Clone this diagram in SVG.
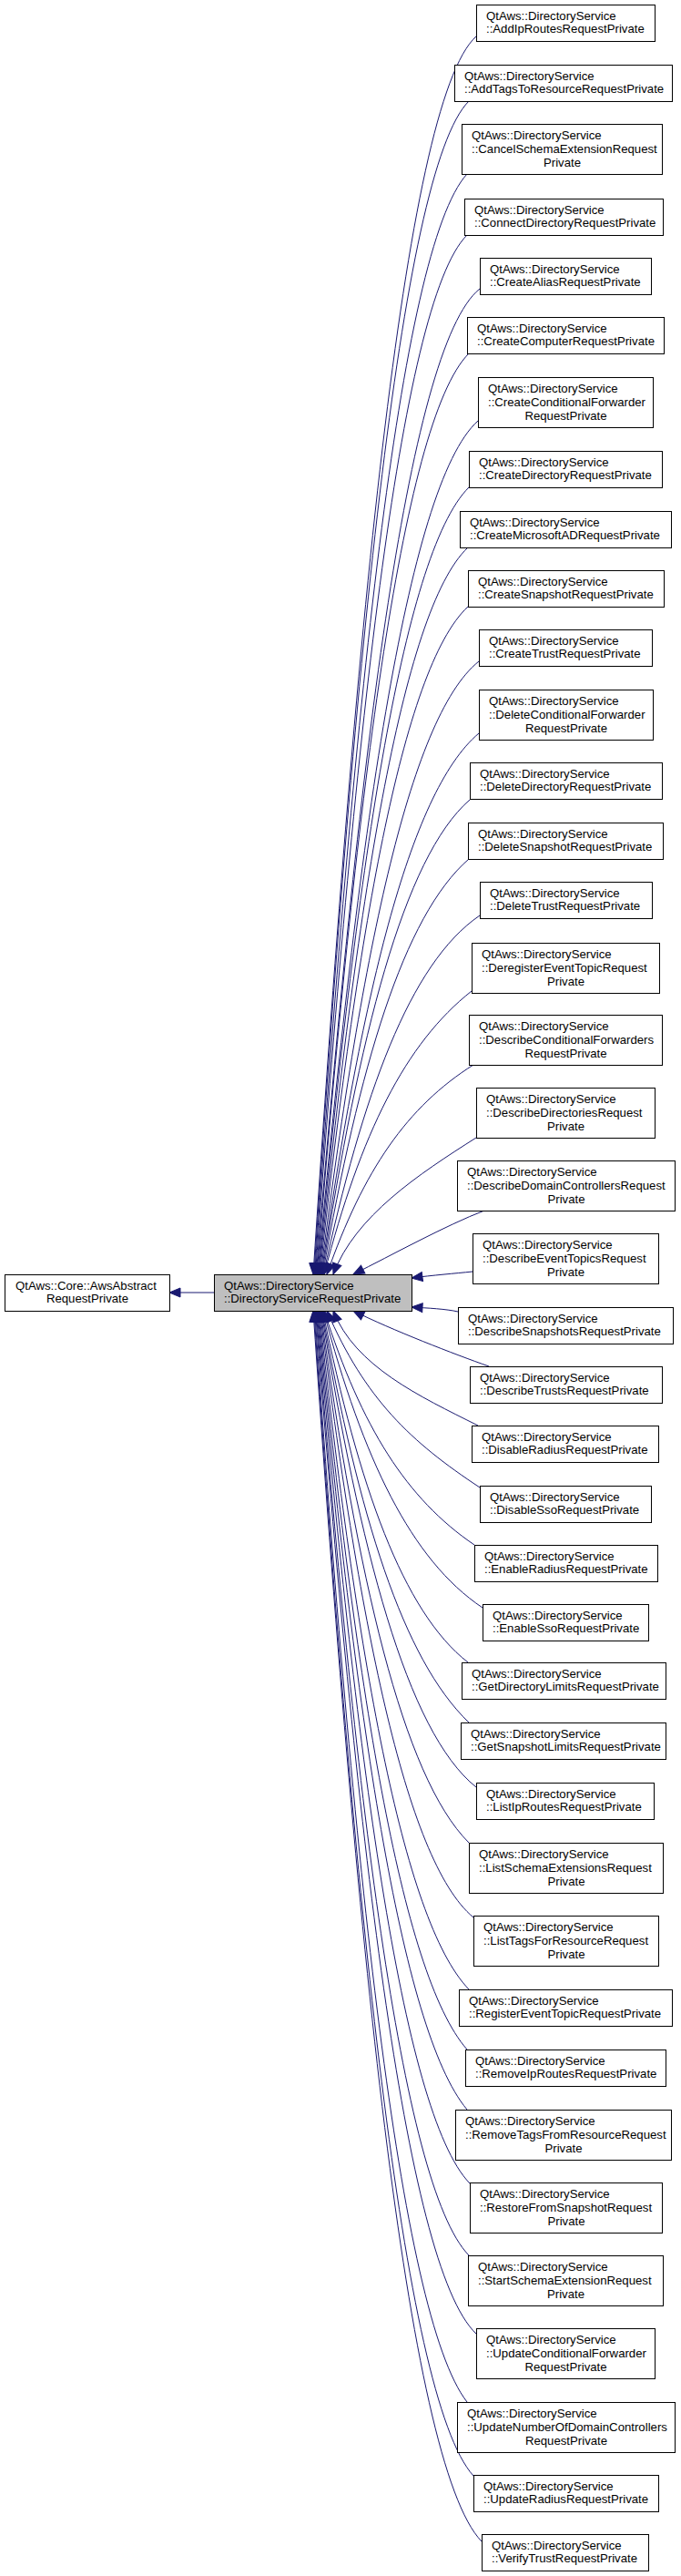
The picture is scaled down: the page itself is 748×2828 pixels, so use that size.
<svg xmlns="http://www.w3.org/2000/svg" width="748" height="2828" viewBox="0 0 748 2828">
<style>
rect{fill:#fff;stroke:#000;stroke-width:1}
#center rect{fill:#bfbfbf}
text{font-family:"Liberation Sans",Arial,Helvetica,sans-serif;font-size:13.2px;fill:#000}
.m{text-anchor:middle}
#edges path{fill:none;stroke:#191970;stroke-width:1;marker-end:url(#a)}
</style>
<defs>
<marker id="a" markerUnits="userSpaceOnUse" markerWidth="14" markerHeight="12" viewBox="0 0 14 12" refX="13" refY="6" orient="auto">
<path d="M1,1 L13,6 L1,11 z" fill="#191970" stroke="#191970"/>
</marker>
</defs>
<rect x="0" y="0" width="748" height="2828" style="fill:#fff;stroke:none"/>
<g id="edges">
<path d="M235,1419 L186,1419"/>
<path d="M523,40 C442.4,112.5 388.8,719.5 344,1399"/>
<path d="M515,111 C438.4,187.6 387.4,755 344.8,1399"/>
<path d="M513,191 C437.7,273.8 387.5,795 345.6,1399"/>
<path d="M513,258 C438,333 388.1,828.5 346.4,1399"/>
<path d="M527,317 C446.1,381.7 392.2,858 347.2,1399"/>
<path d="M515,388 C439.8,463.2 389.8,893.5 348,1399"/>
<path d="M525,462 C445.7,533.4 392.9,930.5 348.8,1399"/>
<path d="M515,535 C440.6,609.4 391,967 349.6,1399"/>
<path d="M514,601 C440.4,670.2 391.3,1000 350.4,1399"/>
<path d="M514,666 C440.7,734.2 391.9,1032.5 351.2,1399"/>
<path d="M526,726 C447.7,788.6 395.5,1062.5 352,1399"/>
<path d="M526,805 C448.1,870.4 396.1,1102 352.8,1399"/>
<path d="M516,878 C442.9,941.6 394.2,1138.5 353.6,1399"/>
<path d="M515,943 C442.7,1005.9 394.6,1171 354.4,1399"/>
<path d="M527,1005 C449.7,1057.6 398.2,1202 355.2,1399"/>
<path d="M518,1088 C445.1,1145.6 396.5,1243.5 356,1399"/>
<path d="M520,1169 C447.5,1214.7 399.3,1284 359,1399"/>
<path d="M523,1249 C460,1289 390,1335 366,1399"/>
<path d="M532,1329 C490,1345 430,1378 388,1399"/>
<path d="M519,1396 C500,1398 475,1400 452,1403"/>
<path d="M503,1440 C490,1437 470,1436 452,1435"/>
<path d="M537,1500 C500,1487 430,1460 388,1439"/>
<path d="M525,1565 C461,1533 390,1500 366,1439"/>
<path d="M527,1633 C451.4,1583.1 401,1536 359,1439"/>
<path d="M521,1696 C446.7,1645.5 397.3,1567.5 356,1439"/>
<path d="M530,1765 C451.3,1712.3 398.9,1602 355.2,1439"/>
<path d="M514,1825 C442.2,1769 394.3,1632 354.4,1439"/>
<path d="M515,1891 C442.4,1821.3 394,1665 353.6,1439"/>
<path d="M523,1962 C446.4,1900.7 395.4,1700.5 352.8,1439"/>
<path d="M515,2023 C441.6,1949.6 392.8,1731 352,1439"/>
<path d="M520,2105 C444,2041.9 393.4,1772 351.2,1439"/>
<path d="M515,2184 C440.9,2106.9 391.6,1811.5 350.4,1439"/>
<path d="M513,2250 C439.5,2166.2 390.5,1844.5 349.6,1439"/>
<path d="M513,2316 C439.1,2227.3 389.9,1877.5 348.8,1439"/>
<path d="M516,2397 C440.4,2318.4 390,1918 348,1439"/>
<path d="M515,2476 C439.5,2398.2 389.2,1957.5 347.2,1439"/>
<path d="M523,2562 C443.5,2486.5 390.6,2000.5 346.4,1439"/>
<path d="M513,2637 C437.7,2539.9 387.5,2038 345.6,1439"/>
<path d="M520,2718 C441.2,2631.3 388.6,2078.5 344.8,1439"/>
<path d="M529,2790 C445.7,2704.2 390.3,2114.5 344,1439"/>
</g>
<g id="base"><rect x="5.5" y="1399.5" width="181" height="40"/><text x="17" y="1415.5">QtAws::Core::AwsAbstract</text><text class="m" x="96" y="1430.2">RequestPrivate</text></g>
<g id="center"><rect x="235.5" y="1399.5" width="217" height="40"/><text x="246" y="1415.5">QtAws::DirectoryService</text><text x="246" y="1430.2">::DirectoryServiceRequestPrivate</text></g>
<g id="n1"><rect x="523.5" y="5.5" width="196" height="40"/><text x="534" y="21.5">QtAws::DirectoryService</text><text x="534" y="36.2">::AddIpRoutesRequestPrivate</text></g>
<g id="n2"><rect x="499.5" y="71.5" width="239" height="40"/><text x="510" y="87.5">QtAws::DirectoryService</text><text x="510" y="102.2">::AddTagsToResourceRequestPrivate</text></g>
<g id="n3"><rect x="507.5" y="136.5" width="220" height="55"/><text x="518" y="153">QtAws::DirectoryService</text><text x="518" y="168">::CancelSchemaExtensionRequest</text><text class="m" x="617.5" y="183">Private</text></g>
<g id="n4"><rect x="510.5" y="218.5" width="218" height="40"/><text x="521" y="234.5">QtAws::DirectoryService</text><text x="521" y="249.2">::ConnectDirectoryRequestPrivate</text></g>
<g id="n5"><rect x="527.5" y="283.5" width="188" height="40"/><text x="538" y="299.5">QtAws::DirectoryService</text><text x="538" y="314.2">::CreateAliasRequestPrivate</text></g>
<g id="n6"><rect x="513.5" y="348.5" width="216" height="40"/><text x="524" y="364.5">QtAws::DirectoryService</text><text x="524" y="379.2">::CreateComputerRequestPrivate</text></g>
<g id="n7"><rect x="525.5" y="414.5" width="192" height="55"/><text x="536" y="431">QtAws::DirectoryService</text><text x="536" y="446">::CreateConditionalForwarder</text><text class="m" x="621.5" y="461">RequestPrivate</text></g>
<g id="n8"><rect x="515.5" y="495.5" width="212" height="40"/><text x="526" y="511.5">QtAws::DirectoryService</text><text x="526" y="526.2">::CreateDirectoryRequestPrivate</text></g>
<g id="n9"><rect x="505.5" y="561.5" width="232" height="40"/><text x="516" y="577.5">QtAws::DirectoryService</text><text x="516" y="592.2">::CreateMicrosoftADRequestPrivate</text></g>
<g id="n10"><rect x="514.5" y="626.5" width="215" height="40"/><text x="525" y="642.5">QtAws::DirectoryService</text><text x="525" y="657.2">::CreateSnapshotRequestPrivate</text></g>
<g id="n11"><rect x="526.5" y="691.5" width="190" height="40"/><text x="537" y="707.5">QtAws::DirectoryService</text><text x="537" y="722.2">::CreateTrustRequestPrivate</text></g>
<g id="n12"><rect x="526.5" y="757.5" width="191" height="55"/><text x="537" y="774">QtAws::DirectoryService</text><text x="537" y="789">::DeleteConditionalForwarder</text><text class="m" x="622" y="804">RequestPrivate</text></g>
<g id="n13"><rect x="516.5" y="837.5" width="211" height="40"/><text x="527" y="853.5">QtAws::DirectoryService</text><text x="527" y="868.2">::DeleteDirectoryRequestPrivate</text></g>
<g id="n14"><rect x="514.5" y="903.5" width="214" height="40"/><text x="525" y="919.5">QtAws::DirectoryService</text><text x="525" y="934.2">::DeleteSnapshotRequestPrivate</text></g>
<g id="n15"><rect x="527.5" y="968.5" width="189" height="40"/><text x="538" y="984.5">QtAws::DirectoryService</text><text x="538" y="999.2">::DeleteTrustRequestPrivate</text></g>
<g id="n16"><rect x="518.5" y="1035.5" width="206" height="55"/><text x="529" y="1052">QtAws::DirectoryService</text><text x="529" y="1067">::DeregisterEventTopicRequest</text><text class="m" x="621.5" y="1082">Private</text></g>
<g id="n17"><rect x="515.5" y="1114.5" width="212" height="55"/><text x="526" y="1131">QtAws::DirectoryService</text><text x="526" y="1146">::DescribeConditionalForwarders</text><text class="m" x="621.5" y="1161">RequestPrivate</text></g>
<g id="n18"><rect x="523.5" y="1194.5" width="196" height="55"/><text x="534" y="1211">QtAws::DirectoryService</text><text x="534" y="1226">::DescribeDirectoriesRequest</text><text class="m" x="621.5" y="1241">Private</text></g>
<g id="n19"><rect x="502.5" y="1274.5" width="239" height="55"/><text x="513" y="1291">QtAws::DirectoryService</text><text x="513" y="1306">::DescribeDomainControllersRequest</text><text class="m" x="622" y="1321">Private</text></g>
<g id="n20"><rect x="519.5" y="1354.5" width="204" height="55"/><text x="530" y="1371">QtAws::DirectoryService</text><text x="530" y="1386">::DescribeEventTopicsRequest</text><text class="m" x="621.5" y="1401">Private</text></g>
<g id="n21"><rect x="503.5" y="1435.5" width="236" height="40"/><text x="514" y="1451.5">QtAws::DirectoryService</text><text x="514" y="1466.2">::DescribeSnapshotsRequestPrivate</text></g>
<g id="n22"><rect x="516.5" y="1500.5" width="211" height="40"/><text x="527" y="1516.5">QtAws::DirectoryService</text><text x="527" y="1531.2">::DescribeTrustsRequestPrivate</text></g>
<g id="n23"><rect x="518.5" y="1565.5" width="205" height="40"/><text x="529" y="1581.5">QtAws::DirectoryService</text><text x="529" y="1596.2">::DisableRadiusRequestPrivate</text></g>
<g id="n24"><rect x="527.5" y="1631.5" width="188" height="40"/><text x="538" y="1647.5">QtAws::DirectoryService</text><text x="538" y="1662.2">::DisableSsoRequestPrivate</text></g>
<g id="n25"><rect x="521.5" y="1696.5" width="201" height="40"/><text x="532" y="1712.5">QtAws::DirectoryService</text><text x="532" y="1727.2">::EnableRadiusRequestPrivate</text></g>
<g id="n26"><rect x="530.5" y="1761.5" width="182" height="40"/><text x="541" y="1777.5">QtAws::DirectoryService</text><text x="541" y="1792.2">::EnableSsoRequestPrivate</text></g>
<g id="n27"><rect x="507.5" y="1825.5" width="224" height="40"/><text x="518" y="1841.5">QtAws::DirectoryService</text><text x="518" y="1856.2">::GetDirectoryLimitsRequestPrivate</text></g>
<g id="n28"><rect x="506.5" y="1891.5" width="225" height="40"/><text x="517" y="1907.5">QtAws::DirectoryService</text><text x="517" y="1922.2">::GetSnapshotLimitsRequestPrivate</text></g>
<g id="n29"><rect x="523.5" y="1957.5" width="195" height="40"/><text x="534" y="1973.5">QtAws::DirectoryService</text><text x="534" y="1988.2">::ListIpRoutesRequestPrivate</text></g>
<g id="n30"><rect x="515.5" y="2023.5" width="213" height="55"/><text x="526" y="2040">QtAws::DirectoryService</text><text x="526" y="2055">::ListSchemaExtensionsRequest</text><text class="m" x="622" y="2070">Private</text></g>
<g id="n31"><rect x="520.5" y="2103.5" width="203" height="55"/><text x="531" y="2120">QtAws::DirectoryService</text><text x="531" y="2135">::ListTagsForResourceRequest</text><text class="m" x="622" y="2150">Private</text></g>
<g id="n32"><rect x="504.5" y="2184.5" width="234" height="40"/><text x="515" y="2200.5">QtAws::DirectoryService</text><text x="515" y="2215.2">::RegisterEventTopicRequestPrivate</text></g>
<g id="n33"><rect x="511.5" y="2250.5" width="220" height="40"/><text x="522" y="2266.5">QtAws::DirectoryService</text><text x="522" y="2281.2">::RemoveIpRoutesRequestPrivate</text></g>
<g id="n34"><rect x="500.5" y="2316.5" width="237" height="55"/><text x="511" y="2333">QtAws::DirectoryService</text><text x="511" y="2348">::RemoveTagsFromResourceRequest</text><text class="m" x="619" y="2363">Private</text></g>
<g id="n35"><rect x="516.5" y="2396.5" width="211" height="55"/><text x="527" y="2413">QtAws::DirectoryService</text><text x="527" y="2428">::RestoreFromSnapshotRequest</text><text class="m" x="622" y="2443">Private</text></g>
<g id="n36"><rect x="514.5" y="2476.5" width="214" height="55"/><text x="525" y="2493">QtAws::DirectoryService</text><text x="525" y="2508">::StartSchemaExtensionRequest</text><text class="m" x="621.5" y="2523">Private</text></g>
<g id="n37"><rect x="523.5" y="2556.5" width="196" height="55"/><text x="534" y="2573">QtAws::DirectoryService</text><text x="534" y="2588">::UpdateConditionalForwarder</text><text class="m" x="621.5" y="2603">RequestPrivate</text></g>
<g id="n38"><rect x="502.5" y="2637.5" width="239" height="55"/><text x="513" y="2654">QtAws::DirectoryService</text><text x="513" y="2669">::UpdateNumberOfDomainControllers</text><text class="m" x="622" y="2684">RequestPrivate</text></g>
<g id="n39"><rect x="520.5" y="2717.5" width="203" height="40"/><text x="531" y="2733.5">QtAws::DirectoryService</text><text x="531" y="2748.2">::UpdateRadiusRequestPrivate</text></g>
<g id="n40"><rect x="529.5" y="2782.5" width="183" height="40"/><text x="540" y="2798.5">QtAws::DirectoryService</text><text x="540" y="2813.2">::VerifyTrustRequestPrivate</text></g>
</svg>
